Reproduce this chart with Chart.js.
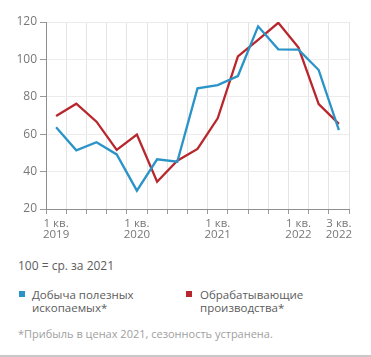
<!DOCTYPE html>
<html>
<head>
<meta charset="utf-8">
<script src="https://cdn.jsdelivr.net/npm/chart.js@4/dist/chart.umd.min.js"></script>
<style>
  html, body { margin: 0; padding: 0; background: #fff; }
  body { width: 371px; height: 357px; position: relative; overflow: hidden; font-family: "Open Sans", sans-serif; }
  #wrap { position: absolute; left: 0; top: 0; width: 371px; height: 250px; }
  .txt { position: absolute; font-size: 11.5px; color: #5c5c5c; white-space: nowrap; line-height: 13px; }
  .sq { position: absolute; width: 6px; height: 6px; }
  #rule { position: absolute; left: 0; top: 355px; width: 371px; height: 2px; background: #c8c8c8; }
</style>
</head>
<body>
<div id="wrap"><canvas id="c" width="371" height="250"></canvas></div>
<div class="txt" style="left:18px; top:259px; font-size:12px;">100 = ср. за 2021</div>
<div class="sq" style="left:19px; top:291px; background:#2a94c8;"></div>
<div class="txt" style="left:32px; top:288px;">Добыча полезных<br>ископаемых*</div>
<div class="sq" style="left:186px; top:291px; background:#b8272d;"></div>
<div class="txt" style="left:200px; top:288px;">Обрабатывающие<br>производства*</div>
<div class="txt" style="left:18px; top:327px; font-size:11px; color:#a0a0a0;">*Прибыль в ценах 2021, сезонность устранена.</div>
<div id="rule"></div>
<script>
const categories = ['1 кв. 2019','2 кв. 2019','3 кв. 2019','4 кв. 2019',
                    '1 кв. 2020','2 кв. 2020','3 кв. 2020','4 кв. 2020',
                    '1 кв. 2021','2 кв. 2021','3 кв. 2021','4 кв. 2021',
                    '1 кв. 2022','2 кв. 2022','3 кв. 2022'];
const shownTicks = ['1 кв. 2019','1 кв. 2020','1 кв. 2021','1 кв. 2022','3 кв. 2022'];
const mining = [63.7, 51.4, 55.7, 49.2, 29.8, 46.6, 45.3, 84.5, 86.3, 91.1, 117.7, 105.4, 105.2, 94.3, 62.2];
const manufacturing = [69.7, 76.3, 66.7, 51.6, 59.8, 34.6, 45.8, 52.1, 68.5, 101.6, 110.5, 119.6, 106.3, 76.1, 65.5];
const yMin = 20, yMax = 120, yStep = 20;

new Chart(document.getElementById('c'), {
  type: 'line',
  data: {
    labels: categories,
    datasets: [
      { label: 'Добыча полезных ископаемых*', data: mining, borderColor: '#2a94c8', borderWidth: 2.3, pointRadius: 0, tension: 0 },
      { label: 'Обрабатывающие производства*', data: manufacturing, borderColor: '#b8272d', borderWidth: 2.3, pointRadius: 0, tension: 0 }
    ]
  },
  options: {
    responsive: false,
    devicePixelRatio: 1,
    animation: false,
    layout: { padding: { top: 22, right: 22, left: 0, bottom: 0 } },
    plugins: { legend: { display: false }, tooltip: { enabled: false } },
    scales: {
      x: {
        offset: true,
        grid: { offset: true, color: '#e4e4e4', tickColor: '#9a9a9a', tickLength: 5, lineWidth: 1 },
        border: { color: '#8f8f8f', width: 1 },
        ticks: {
          autoSkip: false, maxRotation: 0, padding: 4, color: '#777777',
          font: { family: 'Open Sans', size: 11.5, lineHeight: 0.98 },
          callback: function(v, i) {
            const l = categories[i];
            if (!shownTicks.includes(l)) return '';
            const p = l.lastIndexOf(' ');
            return [l.slice(0, p), l.slice(p + 1)];
          }
        },
        afterFit: function(s) { s.height = 41; }
      },
      y: {
        min: yMin, max: yMax,
        grid: { color: '#ececec', tickColor: '#9a9a9a', tickLength: 6, lineWidth: 1 },
        border: { color: '#8f8f8f', width: 1 },
        ticks: { stepSize: yStep, padding: 3, color: '#777777', font: { family: 'Open Sans', size: 12 } },
        afterFit: function(s) { s.width = 46; }
      }
    }
  }
});
</script>
</body>
</html>
